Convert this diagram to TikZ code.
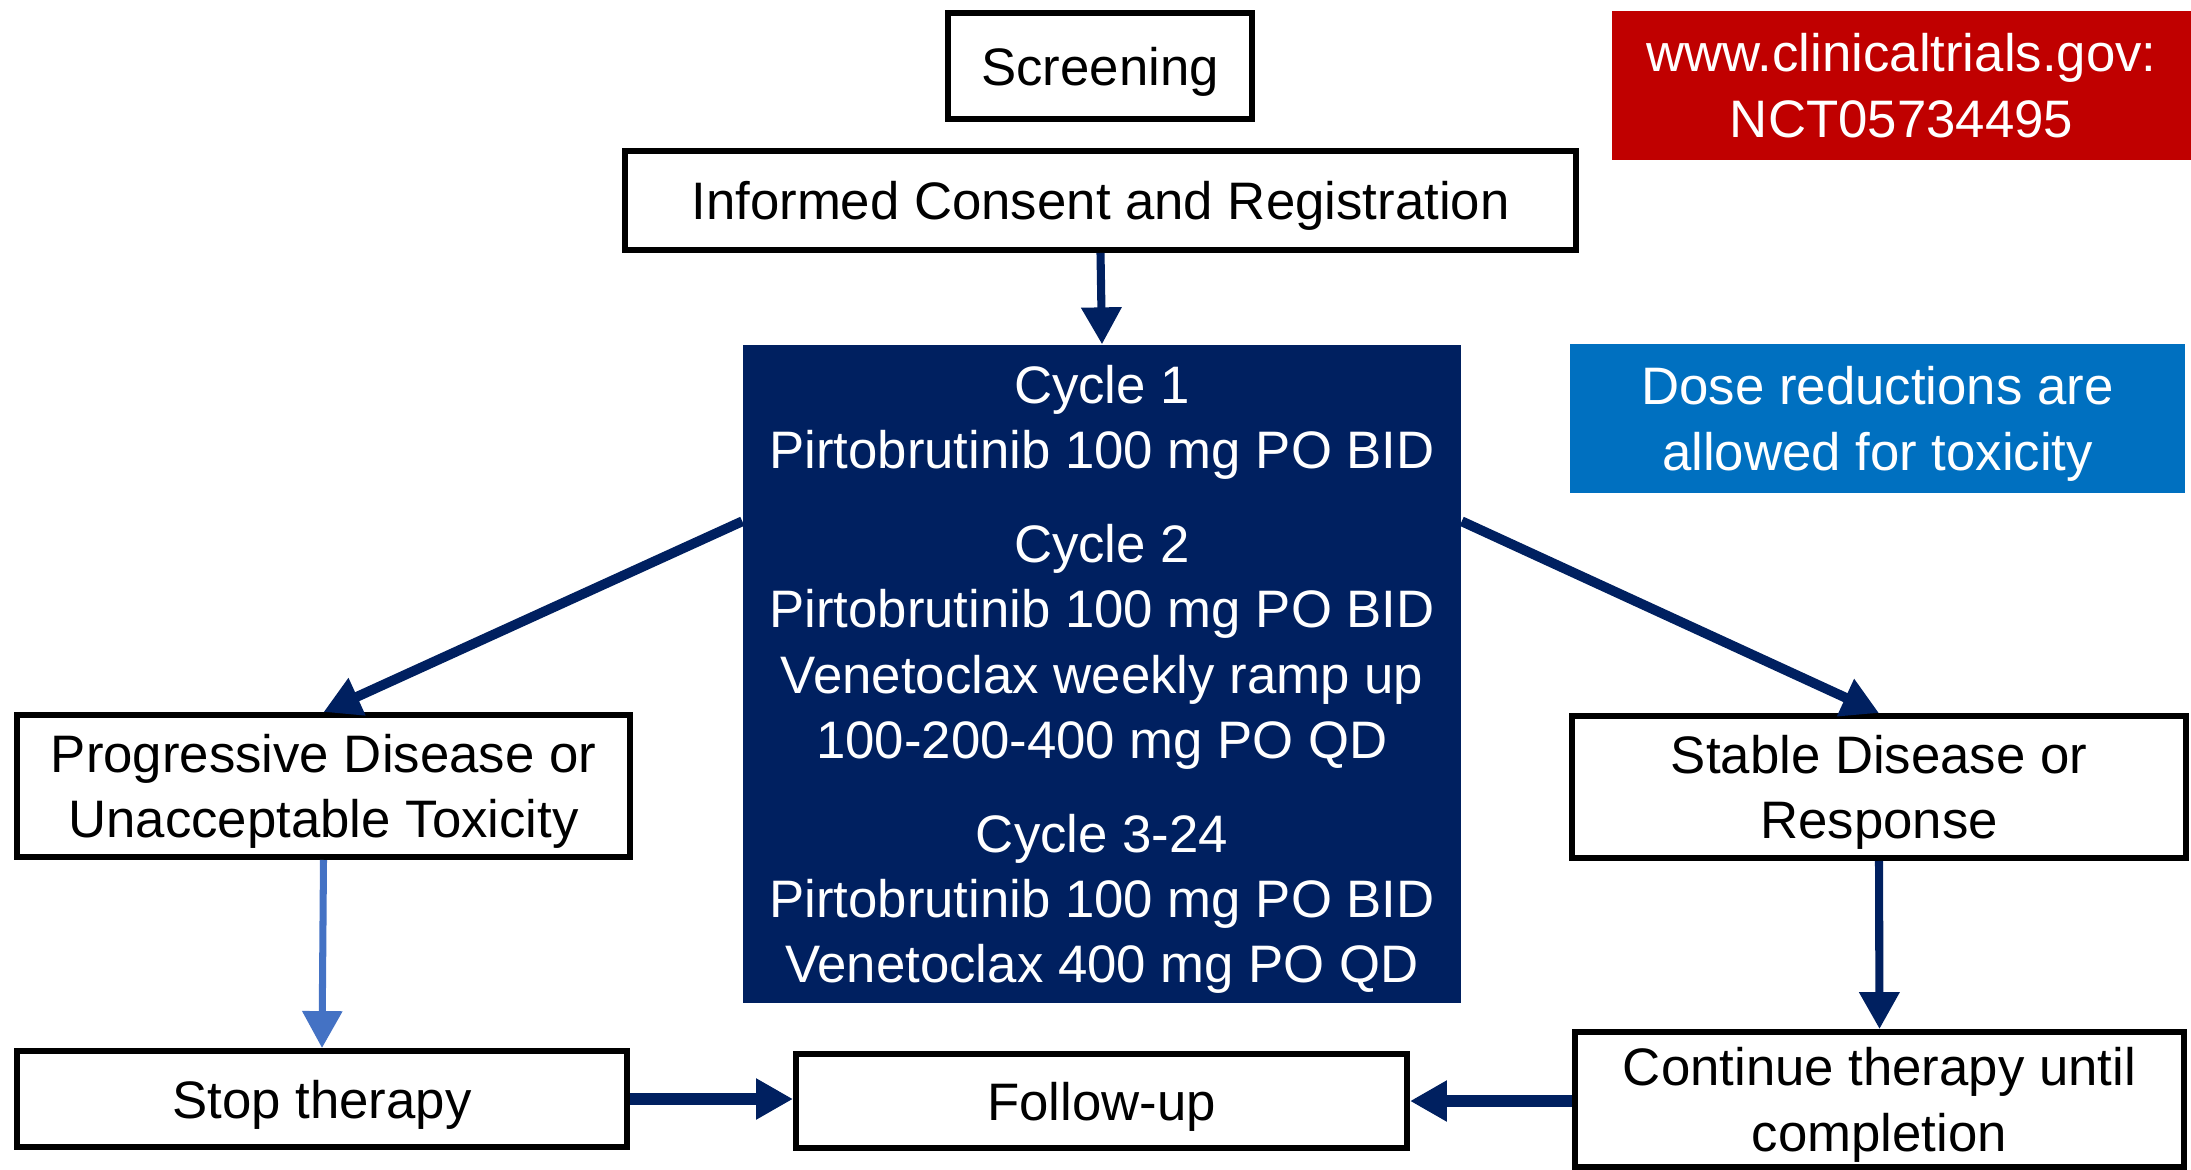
\documentclass[tikz,border=0pt]{standalone}
\usepackage{fontspec}
\setmainfont{Liberation Sans}
\usetikzlibrary{shapes}
\usetikzlibrary{arrows,arrows.meta}
\definecolor{navy}{HTML}{002060}
\definecolor{trialred}{HTML}{C00000}
\definecolor{doseblue}{HTML}{0070C0}
\definecolor{stopblue}{HTML}{4472C4}

\begin{document}
\begin{tikzpicture}[x=0.01cm,y=-0.01cm]
		\tikzstyle{every node}=[align=center,inner sep=0pt,text depth=0pt,font=\fontsize{15}{18.6}\selectfont]
		\tikzstyle{box}=[rectangle,draw,line width=1.7pt]
		\tikzstyle{flag}=[rectangle,text=white]
		\tikzstyle{link}=[draw=navy,-{Triangle[length=10.5pt,width=11pt]}]
		
		\useasboundingbox (0,0) rectangle (2191,1170);
		
		\node[box,minimum width=304*0.01cm,minimum height=106*0.01cm](screen) at (1100,66) {Screening};
		\node[box,minimum width=951*0.01cm,minimum height=99*0.01cm](consent) at (1100.5,200.5) {Informed Consent and Registration};
		\node[flag,fill=trialred,minimum width=579*0.01cm,minimum height=149*0.01cm](trial) at (1901.5,85.5) {www.clinicaltrials.gov:\\NCT05734495};
		\node[flag,fill=navy,minimum width=718*0.01cm,minimum height=658*0.01cm](cycles) at (1102,674) {Cycle 1\\Pirtobrutinib 100 mg PO BID\\[8pt]
			Cycle 2\\Pirtobrutinib 100 mg PO BID\\Venetoclax weekly ramp up\\100-200-400 mg PO QD\\[8pt]
			Cycle 3-24\\Pirtobrutinib 100 mg PO BID\\Venetoclax 400 mg PO QD};
		\node[flag,fill=doseblue,minimum width=615*0.01cm,minimum height=149*0.01cm](dose) at (1877.5,418.5) {Dose reductions are\\allowed for toxicity};
		\node[box,minimum width=613*0.01cm,minimum height=142*0.01cm](prog) at (323.5,786) {Progressive Disease or\\Unacceptable Toxicity};
		\node[box,minimum width=614*0.01cm,minimum height=142*0.01cm](stable) at (1879,787) {Stable Disease or\\Response};
		\node[box,minimum width=610*0.01cm,minimum height=96*0.01cm](stop) at (322,1099) {Stop therapy};
		\node[box,minimum width=611*0.01cm,minimum height=94*0.01cm](follow) at (1101.5,1101) {Follow-up};
		\node[box,minimum width=609*0.01cm,minimum height=135*0.01cm](cont) at (1879.5,1099.5) {Continue therapy until\\completion};
		
		\draw[link,line width=2.3pt] (consent.south) -- (cycles.north);
		\draw[link,line width=2.8pt] (cycles.157) -- (prog.north);
		\draw[link,line width=2.8pt] (cycles.23) -- (stable.north);
		\draw[link,draw=stopblue,line width=2pt] (prog.south) -- (stop.north);
		\draw[link,line width=2.3pt] (stable.south) -- (cont.north);
		\draw[link,line width=3.4pt] (stop.east) -- (stop.east -| follow.west);
		\draw[link,line width=3.4pt] (cont.west |- follow.east) -- (follow.east);
\end{tikzpicture}
\end{document}
